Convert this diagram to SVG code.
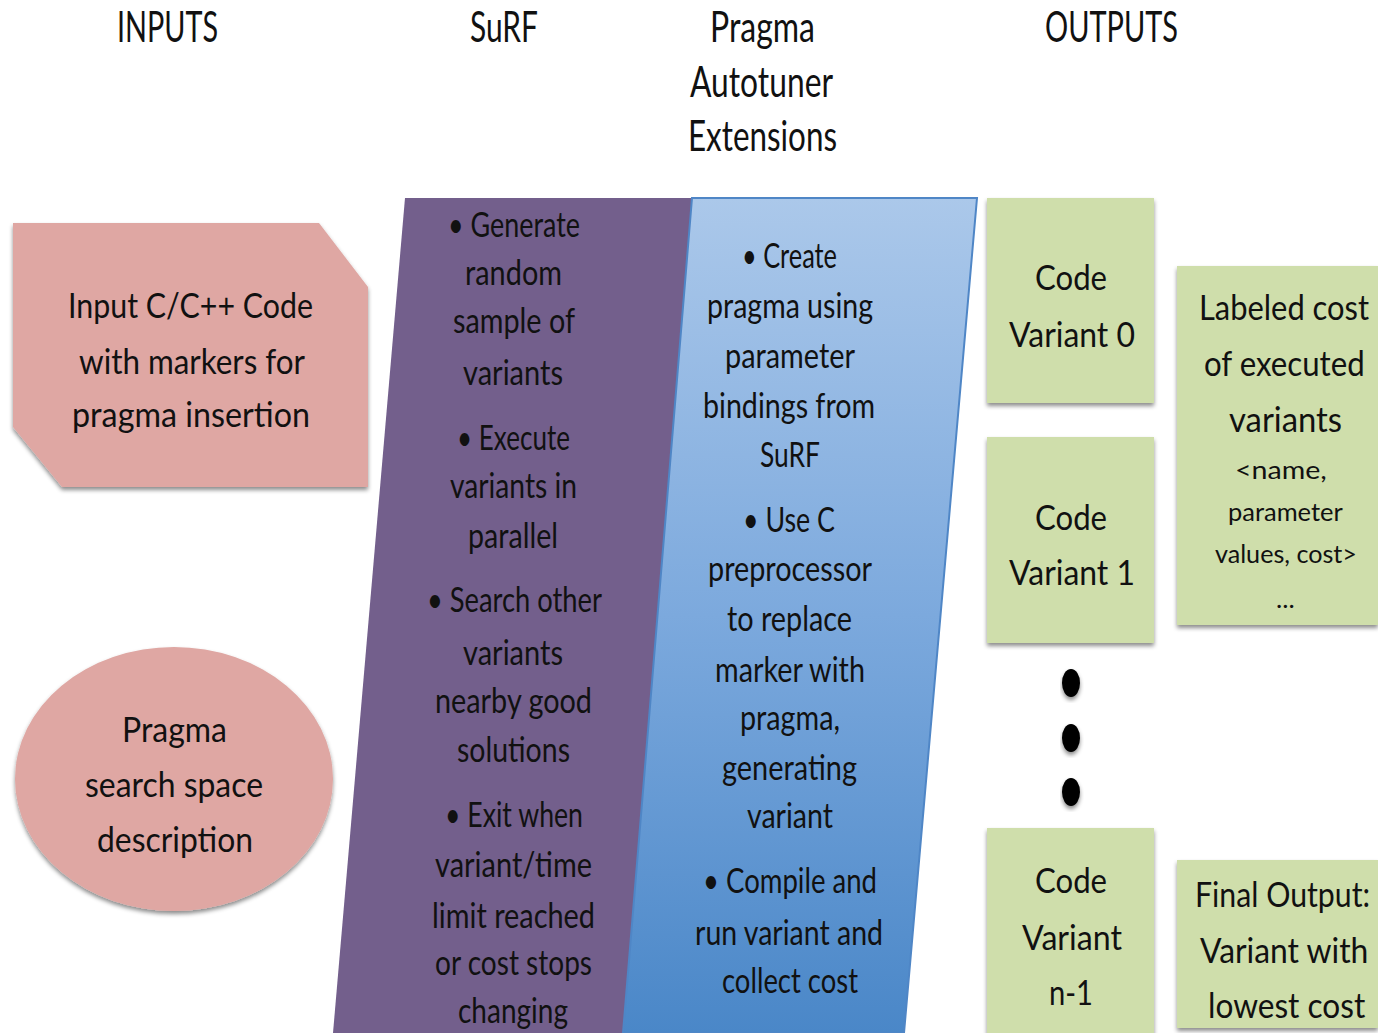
<svg xmlns="http://www.w3.org/2000/svg" width="1378" height="1033" viewBox="0 0 1378 1033">
<style>
text{font-family:Lato,"Liberation Sans",sans-serif;fill:#111}
.h{font-size:42px}
.b{font-size:35px}
.s{font-size:25px}
.pink{fill:#dfa7a3}
.green{fill:#cfdeab}
</style>
<defs>
<filter id="sh" x="-10%" y="-10%" width="130%" height="130%">
<feDropShadow dx="0" dy="3" stdDeviation="2" flood-color="#000" flood-opacity="0.45"/>
</filter>
<linearGradient id="bg" x1="0" y1="0" x2="0" y2="1">
<stop offset="0" stop-color="#abc8ea"/>
<stop offset="0.5" stop-color="#7ca9dd"/>
<stop offset="1" stop-color="#4a87c8"/>
</linearGradient>
</defs>
<rect width="1378" height="1033" fill="#fff"/>

<g id="headers">
<text class="h" x="117" y="42" textLength="101" lengthAdjust="spacingAndGlyphs">INPUTS</text>
<text class="h" x="470" y="42" textLength="68" lengthAdjust="spacingAndGlyphs">SuRF</text>
<text class="h" x="710" y="42" textLength="105" lengthAdjust="spacingAndGlyphs">Pragma</text>
<text class="h" x="690" y="97" textLength="143" lengthAdjust="spacingAndGlyphs">Autotuner</text>
<text class="h" x="688" y="151" textLength="149" lengthAdjust="spacingAndGlyphs">Extensions</text>
<text class="h" x="1045" y="42" textLength="133" lengthAdjust="spacingAndGlyphs">OUTPUTS</text>
</g>

<g id="input-code">
<path class="pink" filter="url(#sh)" d="M13 223 L319 223 L368 287 L368 487 L62 487 L13 427 Z"/>
<text class="b" x="68" y="318" textLength="245" lengthAdjust="spacingAndGlyphs">Input C/C++ Code</text>
<text class="b" x="79" y="374" textLength="226" lengthAdjust="spacingAndGlyphs">with markers for</text>
<text class="b" x="72" y="427" textLength="238" lengthAdjust="spacingAndGlyphs">pragma insertion</text>
</g>

<g id="search-space">
<ellipse class="pink" filter="url(#sh)" cx="174" cy="779" rx="159" ry="132"/>
<text class="b" x="122" y="742" textLength="105" lengthAdjust="spacingAndGlyphs">Pragma</text>
<text class="b" x="85" y="797" textLength="178" lengthAdjust="spacingAndGlyphs">search space</text>
<text class="b" x="97" y="852" textLength="156" lengthAdjust="spacingAndGlyphs">description</text>
</g>

<g id="surf">
<path fill="#735f8c" d="M405 198 L692 198 L623 1033 L333 1033 Z"/>
<text class="b" x="448" y="237" textLength="132" lengthAdjust="spacingAndGlyphs">• Generate</text>
<text class="b" x="465" y="285" textLength="97" lengthAdjust="spacingAndGlyphs">random</text>
<text class="b" x="453" y="333" textLength="122" lengthAdjust="spacingAndGlyphs">sample of</text>
<text class="b" x="463" y="385" textLength="100" lengthAdjust="spacingAndGlyphs">variants</text>
<text class="b" x="457" y="450" textLength="113" lengthAdjust="spacingAndGlyphs">• Execute</text>
<text class="b" x="450" y="498" textLength="127" lengthAdjust="spacingAndGlyphs">variants in</text>
<text class="b" x="468" y="548" textLength="90" lengthAdjust="spacingAndGlyphs">parallel</text>
<text class="b" x="427" y="612" textLength="175" lengthAdjust="spacingAndGlyphs">• Search other</text>
<text class="b" x="463" y="665" textLength="100" lengthAdjust="spacingAndGlyphs">variants</text>
<text class="b" x="435" y="713" textLength="157" lengthAdjust="spacingAndGlyphs">nearby good</text>
<text class="b" x="457" y="762" textLength="113" lengthAdjust="spacingAndGlyphs">solutions</text>
<text class="b" x="445" y="827" textLength="138" lengthAdjust="spacingAndGlyphs">• Exit when</text>
<text class="b" x="435" y="877" textLength="157" lengthAdjust="spacingAndGlyphs">variant/time</text>
<text class="b" x="432" y="928" textLength="163" lengthAdjust="spacingAndGlyphs">limit reached</text>
<text class="b" x="435" y="975" textLength="157" lengthAdjust="spacingAndGlyphs">or cost stops</text>
<text class="b" x="458" y="1023" textLength="110" lengthAdjust="spacingAndGlyphs">changing</text>
</g>

<g id="pragma-ext">
<path fill="url(#bg)" stroke="#4f86c6" stroke-width="2" d="M692 198 L977 198 L904 1033 L623 1033 Z"/>
<text class="b" x="742" y="268" textLength="95" lengthAdjust="spacingAndGlyphs">• Create</text>
<text class="b" x="707" y="318" textLength="166" lengthAdjust="spacingAndGlyphs">pragma using</text>
<text class="b" x="725" y="368" textLength="130" lengthAdjust="spacingAndGlyphs">parameter</text>
<text class="b" x="703" y="418" textLength="172" lengthAdjust="spacingAndGlyphs">bindings from</text>
<text class="b" x="760" y="467" textLength="60" lengthAdjust="spacingAndGlyphs">SuRF</text>
<text class="b" x="743" y="532" textLength="92" lengthAdjust="spacingAndGlyphs">• Use C</text>
<text class="b" x="708" y="581" textLength="164" lengthAdjust="spacingAndGlyphs">preprocessor</text>
<text class="b" x="727" y="631" textLength="125" lengthAdjust="spacingAndGlyphs">to replace</text>
<text class="b" x="715" y="682" textLength="150" lengthAdjust="spacingAndGlyphs">marker with</text>
<text class="b" x="740" y="730" textLength="100" lengthAdjust="spacingAndGlyphs">pragma,</text>
<text class="b" x="722" y="780" textLength="135" lengthAdjust="spacingAndGlyphs">generating</text>
<text class="b" x="747" y="828" textLength="86" lengthAdjust="spacingAndGlyphs">variant</text>
<text class="b" x="703" y="893" textLength="174" lengthAdjust="spacingAndGlyphs">• Compile and</text>
<text class="b" x="695" y="945" textLength="188" lengthAdjust="spacingAndGlyphs">run variant and</text>
<text class="b" x="722" y="993" textLength="136" lengthAdjust="spacingAndGlyphs">collect cost</text>
</g>

<g id="variant0">
<rect class="green" filter="url(#sh)" x="987" y="198" width="167" height="205"/>
<text class="b" x="1035" y="290" textLength="72" lengthAdjust="spacingAndGlyphs">Code</text>
<text class="b" x="1009" y="347" textLength="126" lengthAdjust="spacingAndGlyphs">Variant 0</text>
</g>

<g id="variant1">
<rect class="green" filter="url(#sh)" x="987" y="437" width="167" height="206"/>
<text class="b" x="1035" y="530" textLength="72" lengthAdjust="spacingAndGlyphs">Code</text>
<text class="b" x="1009" y="585" textLength="126" lengthAdjust="spacingAndGlyphs">Variant 1</text>
</g>

<g id="ellipsis">
<ellipse cx="1071" cy="683" rx="9" ry="14" fill="#000" filter="url(#sh)"/>
<ellipse cx="1071" cy="738" rx="9" ry="14" fill="#000" filter="url(#sh)"/>
<ellipse cx="1071" cy="792" rx="9" ry="14" fill="#000" filter="url(#sh)"/>
</g>

<g id="variantn1">
<rect class="green" filter="url(#sh)" x="987" y="828" width="167" height="215"/>
<text class="b" x="1035" y="893" textLength="72" lengthAdjust="spacingAndGlyphs">Code</text>
<text class="b" x="1022" y="950" textLength="100" lengthAdjust="spacingAndGlyphs">Variant</text>
<text class="b" x="1049" y="1005" textLength="44" lengthAdjust="spacingAndGlyphs">n-1</text>
</g>

<g id="labeled-cost">
<rect class="green" filter="url(#sh)" x="1177" y="266" width="201" height="359"/>
<text class="b" transform="translate(1199,320) scale(0.85,1)" textLength="200" lengthAdjust="spacingAndGlyphs">Labeled cost</text>
<text class="b" transform="translate(1204,376) scale(0.85,1)" textLength="189" lengthAdjust="spacingAndGlyphs">of executed</text>
<text class="b" transform="translate(1229,432) scale(0.85,1)" textLength="133" lengthAdjust="spacingAndGlyphs">variants</text>
<text class="s" transform="translate(1235,479) scale(0.85,1)" textLength="108" lengthAdjust="spacingAndGlyphs">&lt;name,</text>
<text class="s" transform="translate(1228,521) scale(0.85,1)" textLength="135" lengthAdjust="spacingAndGlyphs">parameter</text>
<text class="s" transform="translate(1215,563) scale(0.85,1)" textLength="167" lengthAdjust="spacingAndGlyphs">values, cost&gt;</text>
<text class="s" transform="translate(1276,608) scale(0.85,1)" textLength="22" lengthAdjust="spacingAndGlyphs">...</text>
</g>

<g id="final-output">
<rect class="green" filter="url(#sh)" x="1177" y="860" width="201" height="168"/>
<text class="b" transform="translate(1195,907) scale(0.85,1)" textLength="206" lengthAdjust="spacingAndGlyphs">Final Output:</text>
<text class="b" transform="translate(1200,963) scale(0.85,1)" textLength="198" lengthAdjust="spacingAndGlyphs">Variant with</text>
<text class="b" transform="translate(1208,1018) scale(0.85,1)" textLength="185" lengthAdjust="spacingAndGlyphs">lowest cost</text>
</g>

<g id="connectors"></g>
</svg>
